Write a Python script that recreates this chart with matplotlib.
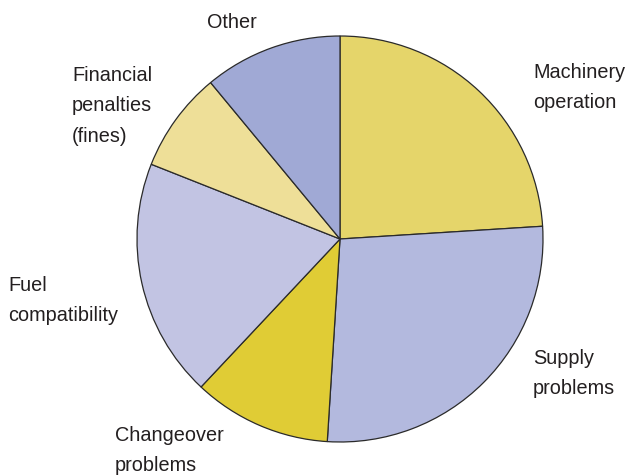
import matplotlib
matplotlib.use("Agg")
import matplotlib.pyplot as plt

categories = ["Machinery\noperation", "Supply\nproblems", "Changeover\nproblems",
              "Fuel\ncompatibility", "Financial\npenalties\n(fines)", "Other"]
values = [24, 27, 11, 19, 8, 11]
colors = ["#E5D56A", "#B3B9DE", "#E0CC35", "#C2C4E3", "#EEDF98", "#A0A9D5"]

W, H = 628, 475
fig = plt.figure(figsize=(W / 100, H / 100), dpi=100)
cx, cy, r = 340, 239, 203
ax = fig.add_axes([(cx - r) / W, (H - cy - r) / H, 2 * r / W, 2 * r / H])
ax.pie(values, colors=colors, startangle=90, counterclock=False,
       wedgeprops=dict(edgecolor="#2a2a2a", linewidth=0.9), radius=1)
ax.set_xlim(-1.0, 1.0)
ax.set_ylim(-1.0, 1.0)
ax.set_aspect("equal")
ax.axis("off")

# label anchor positions (pixels, left / top of text)
label_pos = [(533, 63), (533, 349), (115, 426), (8, 276), (72, 66), (207, 13)]
for lab, (x, y) in zip(categories, label_pos):
    fig.text(x / W, 1 - y / H, lab, ha="left", va="top", fontsize=14.3,
             family="Liberation Sans", color="#231F20", linespacing=1.75)

fig.savefig("out.png", dpi=100)
